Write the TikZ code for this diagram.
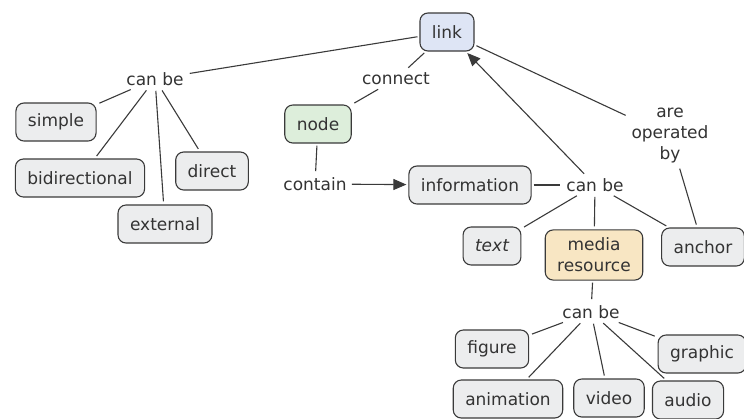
\documentclass[tikz,border=0pt]{standalone}
\usepackage{fontspec}
\setmainfont{DejaVu Sans}
\usepackage{xcolor}
\usepackage{tikz}
\usetikzlibrary{positioning, arrows.meta, calc}
\definecolor{conceptgray}{HTML}{ECEDEE}
\definecolor{linkblue}{HTML}{DEE5F5}
\definecolor{nodegreen}{HTML}{DDEEDB}
\definecolor{mediatan}{HTML}{F8E6C3}
\definecolor{edgegray}{HTML}{3A3A3A}
\definecolor{inkgray}{HTML}{333333}

\begin{document}
\begin{tikzpicture}[x=1pt, y=-1pt,
    every node/.style={font=\fontsize{17}{21}\selectfont, text=inkgray},
    concept/.style={draw=edgegray, line width=1.1pt, fill=conceptgray, rounded corners=8pt,
          inner xsep=12pt, inner ysep=8pt, minimum height=38pt, align=center},
    phrase/.style={inner sep=3pt, align=center},
    wire/.style={draw=edgegray, line width=1.1pt, shorten <=2pt, shorten >=3pt},
    arrowwire/.style={wire, shorten >=2pt, -{Triangle[length=13pt, width=11pt]}}]
    \useasboundingbox (0,0) rectangle (744,418);

    % concepts
    \node[concept, fill=linkblue] (link) at (447,32) {link};
    \node[concept, fill=nodegreen] (node) at (318,124) {node};
    \node[concept] (simple) at (56,122) {simple};
    \node[concept] (bidir) at (80,178) {bidirectional};
    \node[concept] (direct) at (212,171) {direct};
    \node[concept] (external) at (165,224) {external};
    \node[concept] (info) at (470,185) {information};
    \node[concept] (text) at (492,246) {\itshape text};
    \node[concept, fill=mediatan] (media) at (594,255) {media\\resource};
    \node[concept] (anchor) at (703,247) {anchor};
    \node[concept] (figure) at (492,349) {figure};
    \node[concept] (graphic) at (702,354) {graphic};
    \node[concept] (animation) at (508,399) {animation};
    \node[concept] (video) at (609,398) {video};
    \node[concept] (audio) at (688,400) {audio};

    % linking phrases
    \node[phrase] (canbeL) at (155,79) {can be};
    \node[phrase] (connect) at (396,79) {connect};
    \node[phrase] (contain) at (315,184) {contain};
    \node[phrase] (canbeM) at (595,185) {can be};
    \node[phrase] (operated) at (670,136) {are\\operated\\by};
    \node[phrase] (canbeB) at (591,312) {can be};

    % connections
    \draw[wire] (link) -- (canbeL);
    \foreach \t in {simple, bidir, external, direct}
        \draw[wire] (canbeL) -- (\t);
    \draw[wire] (link) -- (connect);
    \draw[wire] (connect) -- (node);
    \draw[wire] (node) -- (contain);
    \draw[arrowwire] (contain) -- (info);
    \draw[wire] (info) -- (canbeM);
    \draw[arrowwire] (canbeM) -- (link);
    \draw[wire] (link) -- (operated);
    \draw[wire] (operated) -- (anchor);
    \foreach \t in {text, media, anchor}
        \draw[wire] (canbeM) -- (\t);
    \draw[wire] (media) -- (canbeB);
    \foreach \t in {figure, animation, video, audio, graphic}
        \draw[wire] (canbeB) -- (\t);
\end{tikzpicture}
\end{document}
